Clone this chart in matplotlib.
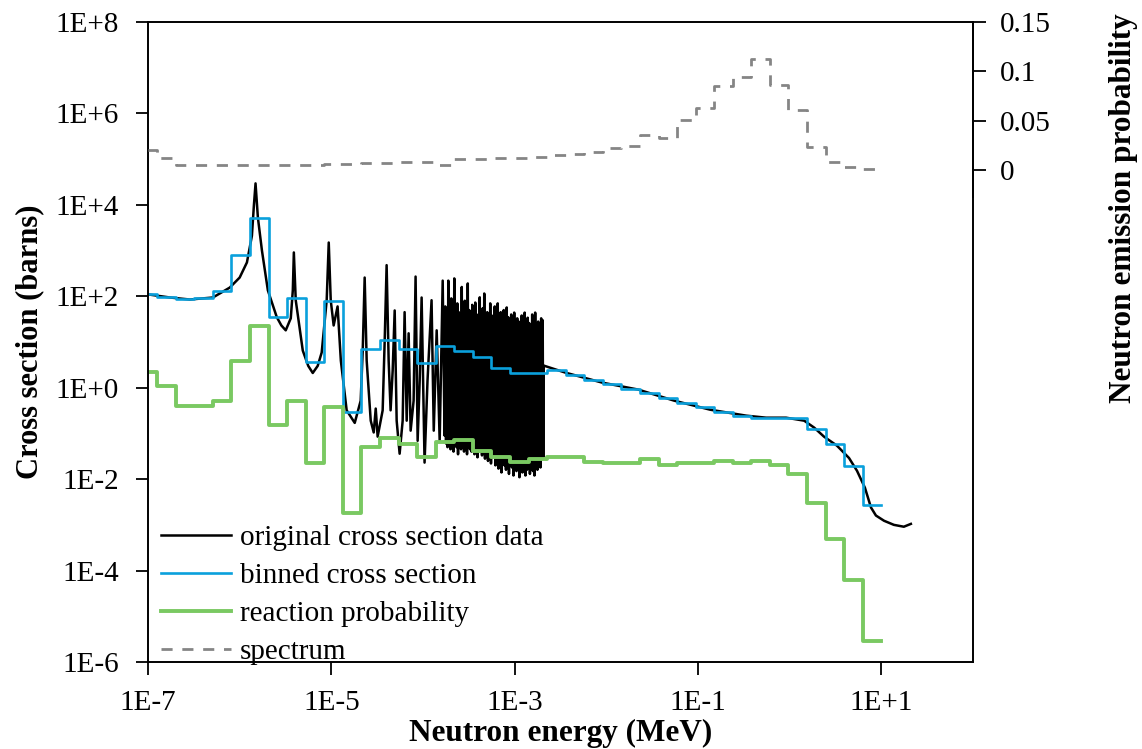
import numpy as np
import matplotlib
matplotlib.use("Agg")
import matplotlib.pyplot as plt
from matplotlib.lines import Line2D

plt.rcParams['font.family'] = ['Liberation Serif', 'DejaVu Serif']

# group boundaries (MeV), 40 groups
bin_edges = [1.0e-7, 1.26e-7, 2.01e-7, 3.20e-7, 5.10e-7, 8.13e-7, 1.30e-6, 2.07e-6,
             3.30e-6, 5.25e-6, 8.37e-6, 1.34e-5, 2.13e-5, 3.40e-5, 5.41e-5, 8.63e-5,
             1.37e-4, 2.19e-4, 3.50e-4, 5.57e-4, 8.88e-4, 1.42e-3, 2.26e-3, 3.60e-3,
             5.74e-3, 9.15e-3, 1.46e-2, 2.33e-2, 3.71e-2, 5.91e-2, 9.43e-2, 0.150,
             0.240, 0.382, 0.609, 0.971, 1.55, 2.47, 3.94, 6.27, 10.0]

# binned cross section (barns)
binned_xs = [110, 95, 88, 90, 130, 800, 5100, 36, 93, 3.7,
             77, 0.30, 7.2, 10.8, 6.9, 3.4, 8.3, 6.2, 4.6, 2.7,
             2.1, 2.1, 2.5, 1.9, 1.5, 1.23, 0.96, 0.78, 0.60, 0.47,
             0.37, 0.30, 0.245, 0.22, 0.22, 0.22, 0.126, 0.060, 0.019, 0.0027]

# reaction probability per group
reaction_prob = [2.2, 1.1, 0.39, 0.39, 0.52, 3.9, 22, 0.15, 0.52, 0.023,
                 0.37, 0.0018, 0.051, 0.081, 0.060, 0.030, 0.066, 0.072, 0.042, 0.031,
                 0.024, 0.028, 0.031, 0.030, 0.024, 0.023, 0.022, 0.028, 0.020, 0.023,
                 0.023, 0.025, 0.023, 0.025, 0.020, 0.013, 0.0030, 0.00049, 6.3e-5, 2.9e-6]

# neutron emission spectrum per group (secondary axis)
spectrum = [0.020, 0.012, 0.0045, 0.0045, 0.0045, 0.0045, 0.0045, 0.0045, 0.0045, 0.005,
            0.0058, 0.006, 0.0068, 0.007, 0.0078, 0.008, 0.005, 0.011, 0.011, 0.012,
            0.0125, 0.013, 0.015, 0.016, 0.018, 0.022, 0.024, 0.035, 0.032, 0.051,
            0.063, 0.085, 0.094, 0.112, 0.086, 0.061, 0.023, 0.008, 0.003, 0.0005]

# original pointwise cross section (MeV, barns): resolved resonances
res_energy = [1.0e-7, 1.74e-7, 2.86e-7, 5.1e-7, 7.8e-7, 1.0e-6, 1.2e-6, 1.36e-6, 1.43e-6,
              1.49e-6, 1.58e-6, 1.75e-6, 2.03e-6, 2.54e-6, 2.85e-6, 3.18e-6, 3.61e-6, 3.8e-6,
              3.9e-6, 4.09e-6, 4.88e-6, 5.6e-6, 6.27e-6, 7.1e-6, 7.85e-6, 8.9e-6, 9.37e-6,
              9.85e-6, 1.06e-5, 1.17e-5, 1.27e-5, 1.47e-5, 1.8e-5, 2.09e-5, 2.2e-5, 2.31e-5,
              2.43e-5, 2.69e-5, 2.9e-5, 3.05e-5, 3.2e-5, 3.63e-5, 3.82e-5, 4.01e-5, 4.22e-5,
              4.43e-5, 4.67e-5, 4.91e-5, 5.16e-5, 5.56e-5, 6.0e-5, 6.3e-5, 6.64e-5, 6.97e-5,
              7.33e-5, 7.9e-5, 8.3e-5, 8.74e-5, 9.2e-5, 9.66e-5, 1.04e-4, 1.12e-4, 1.24e-4,
              1.31e-4, 1.41e-4, 1.52e-4, 1.64e-4]
res_xs = [110, 94, 85, 94, 155, 257, 550, 2100, 9800,
          29500, 5300, 1000, 135, 35, 23, 18, 33, 135,
          910, 82, 6.5, 3.0, 2.1, 3.0, 5.9, 82, 1500,
          82, 23, 60, 3.9, 0.32, 0.17, 0.52, 6.5, 257,
          3.9, 0.19, 0.105, 0.35, 0.085, 0.32, 10.7, 480, 3.9,
          0.32, 2.4, 49, 0.19, 0.036, 0.19, 45, 0.19, 15.5,
          0.115, 0.52, 270, 0.069, 1.43, 94, 0.023, 1.43, 82,
          0.115, 18, 0.069, 220]

# dense resonance region (valley, peak, valley, peak ...)
dense_energy = [1.718e-4, 1.751e-4, 1.784e-4, 1.818e-4, 1.852e-4, 1.888e-4, 1.924e-4, 1.960e-4,
                1.997e-4, 2.035e-4, 2.074e-4, 2.113e-4, 2.153e-4, 2.194e-4, 2.236e-4, 2.278e-4,
                2.322e-4, 2.366e-4, 2.411e-4, 2.456e-4, 2.503e-4, 2.551e-4, 2.599e-4, 2.648e-4,
                2.699e-4, 2.750e-4, 2.802e-4, 2.855e-4, 2.910e-4, 2.965e-4, 3.021e-4, 3.079e-4,
                3.137e-4, 3.197e-4, 3.257e-4, 3.319e-4, 3.382e-4, 3.446e-4, 3.512e-4, 3.578e-4,
                3.646e-4, 3.716e-4, 3.786e-4, 3.858e-4, 3.931e-4, 4.006e-4, 4.082e-4, 4.160e-4,
                4.239e-4, 4.319e-4, 4.401e-4, 4.485e-4, 4.570e-4, 4.657e-4, 4.745e-4, 4.835e-4,
                4.927e-4, 5.021e-4, 5.116e-4, 5.213e-4, 5.312e-4, 5.413e-4, 5.516e-4, 5.621e-4,
                5.728e-4, 5.837e-4, 5.948e-4, 6.061e-4, 6.176e-4, 6.293e-4, 6.413e-4, 6.535e-4,
                6.659e-4, 6.785e-4, 6.914e-4, 7.045e-4, 7.179e-4, 7.315e-4, 7.454e-4, 7.596e-4,
                7.740e-4, 7.887e-4, 8.037e-4, 8.190e-4, 8.346e-4, 8.504e-4, 8.666e-4, 8.830e-4,
                8.998e-4, 9.169e-4, 9.343e-4, 9.521e-4, 9.702e-4, 9.886e-4, 1.007e-3, 1.026e-3,
                1.046e-3, 1.066e-3, 1.086e-3, 1.107e-3, 1.128e-3, 1.149e-3, 1.171e-3, 1.193e-3,
                1.216e-3, 1.239e-3, 1.262e-3, 1.286e-3, 1.311e-3, 1.336e-3, 1.361e-3, 1.387e-3,
                1.413e-3, 1.440e-3, 1.467e-3, 1.495e-3, 1.524e-3, 1.553e-3, 1.582e-3, 1.612e-3,
                1.643e-3, 1.674e-3, 1.706e-3, 1.738e-3, 1.771e-3, 1.805e-3, 1.839e-3, 1.874e-3,
                1.910e-3, 1.946e-3, 1.983e-3, 2.021e-3, 2.05e-3, 2.07e-3]
dense_xs = [0.09, 60, 0.06, 25, 0.05, 220, 0.08, 40, 0.045, 90, 0.07, 30, 0.04, 246, 0.06, 18,
            0.05, 70, 0.035, 45, 0.07, 12, 0.045, 160, 0.055, 35, 0.04, 80, 0.05, 22, 0.035, 191,
            0.06, 50, 0.045, 28, 0.04, 65, 0.05, 14, 0.035, 73, 0.045, 40, 0.03, 30, 0.05, 95,
            0.04, 20, 0.033, 55, 0.045, 115, 0.028, 33, 0.04, 45, 0.025, 18, 0.035, 70, 0.022, 38,
            0.03, 25, 0.04, 60, 0.02, 30, 0.028, 70, 0.017, 14, 0.025, 45, 0.014, 27, 0.03, 50,
            0.02, 20, 0.016, 57, 0.025, 35, 0.013, 18, 0.022, 40, 0.018, 25, 0.012, 44, 0.02, 15,
            0.015, 33, 0.025, 28, 0.011, 12, 0.018, 38, 0.014, 23, 0.022, 44, 0.012, 20, 0.016, 34,
            0.02, 26, 0.013, 15, 0.018, 40, 0.015, 22, 0.012, 44, 0.02, 18, 0.016, 28, 0.022, 23,
            0.018, 33, 0.03, 30, 0.03, 3.05]

# smooth part above the resonances
fast_energy = [3.57e-3, 9.04e-3, 2.23e-2, 5.51e-2, 0.136, 0.335, 0.553, 0.914, 1.44, 1.85,
               2.37, 3.28, 4.44, 5.42, 6.62, 7.71, 8.73, 10.7, 13.7, 17.6, 21.0]
fast_xs = [2.14, 1.29, 0.91, 0.52, 0.33, 0.245, 0.221, 0.221, 0.19, 0.134,
           0.085, 0.054, 0.029, 0.0153, 0.0065, 0.0024, 0.0016, 0.00123, 0.00100, 0.00091, 0.00105]

orig_energy = res_energy + dense_energy + fast_energy
orig_xs = res_xs + dense_xs + fast_xs

xticks = [1e-7, 1e-5, 1e-3, 1e-1, 1e1]
xtick_labels = ['1E-7', '1E-5', '1E-3', '1E-1', '1E+1']
yticks = [1e-6, 1e-4, 1e-2, 1e0, 1e2, 1e4, 1e6, 1e8]
ytick_labels = ['1E-6', '1E-4', '1E-2', '1E+0', '1E+2', '1E+4', '1E+6', '1E+8']
y2ticks = [0, 0.05, 0.1, 0.15]
y2tick_labels = ['0', '0.05', '0.1', '0.15']

black_c, blue_c, green_c, grey_c = 'black', '#0AA0DC', '#7AC962', '#858585'
dash = (0, (4, 3.5))

fig = plt.figure(figsize=(11.42, 7.49), dpi=100)
ax = fig.add_axes([148 / 1142, 1 - 662 / 749, 825 / 1142, 640 / 749])

ax.plot(orig_energy, orig_xs, color=black_c, lw=1.8)
ax.step(bin_edges, binned_xs + [binned_xs[-1]], where='post', color=blue_c, lw=1.9)
ax.step(bin_edges, reaction_prob + [reaction_prob[-1]], where='post', color=green_c, lw=2.8)

ax.set_xscale('log')
ax.set_yscale('log')
ax.set_xlim(1e-7, 1e2)
ax.set_ylim(1e-6, 1e8)
ax.set_xticks(xticks)
ax.set_xticklabels(xtick_labels)
ax.set_yticks(yticks)
ax.set_yticklabels(ytick_labels)
ax.minorticks_off()
ax.tick_params(axis='x', direction='out', length=9, width=1.3, labelsize=21, pad=11)
ax.tick_params(axis='y', direction='out', length=9, width=1.3, labelsize=21, pad=12)
for s in ax.spines.values():
    s.set_linewidth(1.4)
ax.set_xlabel('Neutron energy (MeV)', fontsize=22.5, fontweight='bold', labelpad=2)
ax.set_ylabel('Cross section (barns)', fontsize=22, fontweight='bold', labelpad=8)

# secondary axis for the spectrum, top part only
ax2 = fig.add_axes([148 / 1142, 1 - 197 / 749, 825 / 1142, 175 / 749])
ax2.patch.set_alpha(0)
ax2.step(bin_edges, spectrum + [spectrum[-1]], where='post', color=grey_c, lw=2, ls=dash)
ax2.set_xscale('log')
ax2.set_xlim(1e-7, 1e2)
ax2.set_ylim(-0.0275, 0.15)
ax2.set_yticks(y2ticks)
ax2.set_yticklabels(y2tick_labels)
ax2.minorticks_off()
ax2.xaxis.set_visible(False)
ax2.yaxis.tick_right()
for k in ['left', 'top', 'bottom']:
    ax2.spines[k].set_visible(False)
ax2.spines['right'].set_linewidth(1.4)
ax2.tick_params(axis='y', direction='out', length=9, width=1.3, labelsize=21, pad=10)

fig.text(1123 / 1142, 1 - 208 / 749, 'Neutron emission probability', rotation=90,
         ha='center', va='center', fontsize=22.5, fontweight='bold')

handles = [Line2D([], [], color=black_c, lw=1.8),
           Line2D([], [], color=blue_c, lw=1.9),
           Line2D([], [], color=green_c, lw=2.8),
           Line2D([], [], color=grey_c, lw=2, ls=dash)]
labels = ['original cross section data', 'binned cross section',
          'reaction probability', 'spectrum']
ax.legend(handles, labels, loc='lower left', bbox_to_anchor=(0.016, -0.005),
          frameon=False, fontsize=21, handlelength=2.4, handletextpad=0.3,
          labelspacing=0.4, borderpad=0, borderaxespad=0)

fig.savefig('out.png', dpi=100)
